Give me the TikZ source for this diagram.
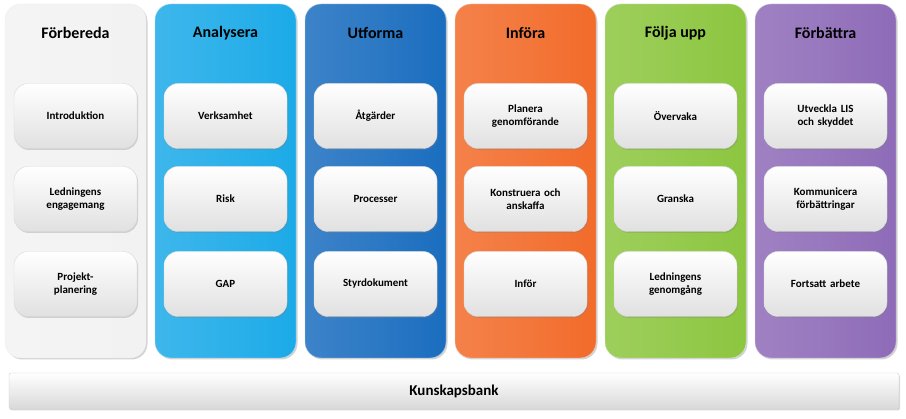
\documentclass[tikz,border=0pt]{standalone}
\usepackage{fontspec}
\setmainfont{Carlito}
\usetikzlibrary{shadows}
\definecolor{c1}{HTML}{F2F2F2}
\definecolor{c2}{HTML}{1BAAE8}
\definecolor{c3}{HTML}{1A6DBF}
\definecolor{c4}{HTML}{F26B2A}
\definecolor{c5}{HTML}{8CC63F}
\definecolor{c6}{HTML}{8E6BB8}
\tikzset{
  col/.style={rounded corners=16pt, minimum width=141pt, minimum height=354pt, inner sep=0pt,
     draw=#1!80!black!30, line width=0.4pt, left color=#1!85!white, right color=#1, middle color=#1!92!white,
     drop shadow={opacity=0.35, shadow xshift=1.5pt, shadow yshift=-1.5pt}},
  item/.style={rounded corners=14pt, minimum width=123pt, minimum height=65pt, inner sep=2pt,
     top color=white, bottom color=black!12, draw=black!15, align=center, text width=115pt,
     font=\bfseries\fontsize{11}{13}\selectfont,
     drop shadow={opacity=0.3, shadow xshift=1pt, shadow yshift=-1.5pt}},
  ttl/.style={font=\bfseries\fontsize{16}{18}\selectfont, text=#1},
  bar/.style={minimum width=890pt, minimum height=36pt, top color=white, bottom color=black!15,
     draw=black!20, rounded corners=2pt, font=\bfseries\fontsize{15}{17}\selectfont,
     drop shadow={opacity=0.3, shadow xshift=1pt, shadow yshift=-1.5pt}}
}
\begin{document}
\begin{tikzpicture}[x=1pt,y=1pt]
\useasboundingbox (0,0) rectangle (906,419);
\foreach \i/\c/\t/\tc/\a/\b/\d in {
 0/c1/Förbereda/black/Introduktion/Ledningens\\engagemang/Projekt-\\planering,
 1/c2/Analysera/black/Verksamhet/Risk/GAP,
 2/c3/Utforma/black/Åtgärder/Processer/Styrdokument,
 3/c4/Införa/black/Planera\\genomförande/Konstruera och\\anskaffa/Inför,
 4/c5/Följa upp/black/Övervaka/Granska/Ledningens\\genomgång,
 5/c6/Förbättra/black/Utveckla LIS\\och skyddet/Kommunicera\\förbättringar/Fortsatt arbete}{
  \node[col=\c] (col\i) at (75.5+150*\i, 238) {};
  \node[ttl=\tc] (t\i) at (75.5+150*\i, 386) {\t};
  \node[item] (a\i) at (75.5+150*\i, 303) {\a};
  \node[item] (b\i) at (75.5+150*\i, 220) {\b};
  \node[item] (d\i) at (75.5+150*\i, 135) {\d};
}
\node[bar] (kb) at (454,28) {Kunskapsbank};
\end{tikzpicture}
\end{document}
